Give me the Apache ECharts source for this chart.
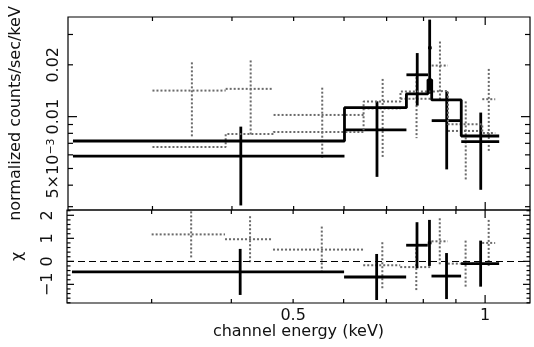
<!DOCTYPE html>
<html><head><meta charset="utf-8">
<script src="https://cdn.jsdelivr.net/npm/echarts@6/dist/echarts.min.js"></script>
<style>html,body{margin:0;padding:0;background:#fff}#c{width:534px;height:347px}</style>
</head><body><div id="c"></div>
<script>
// ---------------- data ----------------
// black (solid) spectrum: bins in keV, rates in counts/sec/keV
const blackBinLo   = [0.225, 0.601, 0.752, 0.813, 0.824, 0.917];
const blackBinHi   = [0.601, 0.752, 0.813, 0.824, 0.917, 1.052];
const blackBinMid  = [0.413, 0.676, 0.782, 0.818, 0.870, 0.984];
const blackRate    = [0.0059, 0.00837, 0.0175, 0.0251, 0.00948, 0.00716];
const blackRateErr = [0.00285, 0.0039, 0.0059, 0.0115, 0.00454, 0.0034];
const blackModelEdges = [0.225, 0.601, 0.752, 0.813, 0.824, 0.917, 1.052];
const blackModel      = [0.00722, 0.01128, 0.01356, 0.01636, 0.01251, 0.00772];
const blackChi    = [-0.46, -0.68, 0.70, 0.80, -0.64, -0.10];
const blackChiErr = [1, 1, 1, 1, 1, 1];

// grey (dotted) spectrum
const greyBinLo   = [0.300, 0.391, 0.465, 0.644, 0.736, 0.824, 0.874, 0.9895];
const greyBinHi   = [0.391, 0.465, 0.644, 0.736, 0.824, 0.874, 0.9895, 1.037];
const greyBinMid  = [0.346, 0.428, 0.5545, 0.690, 0.780, 0.849, 0.932, 1.013];
const greyRate    = [0.01417, 0.0145, 0.01023, 0.01116, 0.0127, 0.0198, 0.00826, 0.01263];
const greyRateErr = [0.0065, 0.0067, 0.0045, 0.0054, 0.0052, 0.0075, 0.0040, 0.0063];
const greyModelEdges = [0.300, 0.391, 0.465, 0.644, 0.736, 0.824, 0.874, 0.9895, 1.037];
const greyModel      = [0.00666, 0.00793, 0.00815, 0.01223, 0.0140, 0.0141, 0.00903, 0.00804];
const greyChi    = [1.17, 0.96, 0.51, -0.17, -0.25, 0.87, -0.10, 0.80];
const greyChiErr = [1, 1, 1, 1, 1, 1, 1, 1];

// axes
const energyRange = [0.221, 1.176];
const rateRange   = [0.00287, 0.0379];
const chiRange    = [-1.81, 2.23];
const energyTicksMinor = [0.3, 0.4, 0.5, 0.6, 0.7, 0.8, 0.9];
const energyTicksMajor = [1];
const energyLabelValues = [0.5, 1];
const energyLabelTexts  = ['0.5', '1'];
const rateTicksMinor = [0.003, 0.004, 0.005, 0.006, 0.007, 0.008, 0.009, 0.02, 0.03];
const rateTicksMajor = [0.01];
const rateLabelValues = [0.005, 0.01, 0.02];
const rateLabelTexts  = ['5×10{s|−3}', '0.01', '0.02'];
const chiTicksMajor = [-1, 0, 1, 2];
const chiTicksMinor = [-1.8, -1.6, -1.4, -1.2, -0.8, -0.6, -0.4, -0.2, 0.2, 0.4, 0.6, 0.8, 1.2, 1.4, 1.6, 1.8, 2.2];
const chiLabelValues = [-1, 0, 1, 2];
const chiLabelTexts  = ['−1', '0', '1', '2'];

// ---------------- drawing ----------------
const FONT = '"DejaVu Sans", sans-serif';
const BLACK = {stroke: '#000', lineWidth: 2.8};
const GREY  = {stroke: '#6a6a6a', lineWidth: 2, lineDash: [2, 2]};

function crossSeries(g, lo, hi, mid, val, err, style) {
  return {
    type: 'custom', xAxisIndex: g, yAxisIndex: g, silent: true, animation: false,
    data: lo.map((l, i) => [l, hi[i], mid[i], val[i], err[i]]),
    encode: {x: [0, 1, 2], y: 3},
    renderItem(params, api) {
      const y = api.value(3), e = api.value(4), m = api.value(2);
      const a = api.coord([api.value(0), y]), b = api.coord([api.value(1), y]);
      const t = api.coord([m, y + e]), u = api.coord([m, y - e]);
      return {type: 'group', children: [
        {type: 'line', shape: {x1: a[0], y1: a[1], x2: b[0], y2: b[1]}, style: style},
        {type: 'line', shape: {x1: t[0], y1: t[1], x2: u[0], y2: u[1]}, style: style}
      ]};
    }
  };
}
function stepSeries(g, edges, vals, lineStyle) {
  return {
    type: 'line', xAxisIndex: g, yAxisIndex: g, step: 'end', symbol: 'none', silent: true,
    animation: false, lineStyle: lineStyle,
    data: edges.map((e, i) => [e, vals[Math.min(i, vals.length - 1)]])
  };
}
function tickSeries(g, dim, values, len, ref) {
  return {
    type: 'custom', xAxisIndex: g, yAxisIndex: g, silent: true, clip: false, animation: false, z: 5,
    data: values.map(v => dim === 'x' ? [v, ref] : [ref, v]),
    encode: {x: 0, y: 1},
    renderItem(params, api) {
      const cs = params.coordSys;
      const p = api.coord([api.value(0), api.value(1)]);
      const st = {stroke: '#000', lineWidth: 1.2};
      if (dim === 'x') {
        const b = cs.y + cs.height, t = cs.y;
        return {type: 'group', children: [
          {type: 'line', shape: {x1: p[0], y1: b, x2: p[0], y2: b - len}, style: st},
          {type: 'line', shape: {x1: p[0], y1: t, x2: p[0], y2: t + len}, style: st}]};
      }
      const l = cs.x, r = cs.x + cs.width;
      return {type: 'group', children: [
        {type: 'line', shape: {x1: l, y1: p[1], x2: l + len, y2: p[1]}, style: st},
        {type: 'line', shape: {x1: r, y1: p[1], x2: r - len, y2: p[1]}, style: st}]};
    }
  };
}
function labelSeries(g, dim, values, texts, off, ref) {
  return {
    type: 'custom', xAxisIndex: g, yAxisIndex: g, silent: true, clip: false, animation: false, z: 5,
    data: values.map((v, i) => dim === 'x' ? [v, ref, i] : [ref, v, i]),
    encode: {x: 0, y: 1},
    renderItem(params, api) {
      const cs = params.coordSys;
      const p = api.coord([api.value(0), api.value(1)]);
      const txt = texts[api.value(2)];
      const style = {text: txt, font: '16px ' + FONT, fill: '#111',
        align: 'center', verticalAlign: 'middle', textAlign: 'center', textVerticalAlign: 'middle',
        rich: {s: {fontSize: 11, fontFamily: FONT, verticalAlign: 'top', fill: '#111'}}};
      if (dim === 'x') return {type: 'text', x: p[0], y: cs.y + cs.height + off, style: style};
      return {type: 'text', x: cs.x - off, y: p[1], rotation: Math.PI / 2, style: style};
    }
  };
}

const chart = echarts.init(document.getElementById('c'), null, {renderer: 'canvas'});
const hiddenAxis = {axisLine: {show: false}, axisTick: {show: false}, axisLabel: {show: false}, splitLine: {show: false}};
const nameStyle = {fontFamily: FONT, fontSize: 16, color: '#111'};

const option = {
  backgroundColor: '#fff',
  animation: false,
  grid: [
    {left: 67, top: 17, width: 463, height: 193, show: true, borderColor: '#000', borderWidth: 1.2, backgroundColor: 'transparent'},
    {left: 67, top: 210, width: 463, height: 93, show: true, borderColor: '#000', borderWidth: 1.2, backgroundColor: 'transparent'}
  ],
  xAxis: [
    Object.assign({type: 'log', gridIndex: 0, min: energyRange[0], max: energyRange[1]}, hiddenAxis),
    Object.assign({type: 'log', gridIndex: 1, min: energyRange[0], max: energyRange[1],
      name: 'channel energy (keV)', nameLocation: 'middle', nameGap: 21, nameTextStyle: nameStyle}, hiddenAxis)
  ],
  yAxis: [
    Object.assign({type: 'log', gridIndex: 0, min: rateRange[0], max: rateRange[1],
      name: 'normalized counts/sec/keV', nameLocation: 'middle', nameGap: 44, nameTextStyle: nameStyle}, hiddenAxis),
    Object.assign({type: 'value', gridIndex: 1, min: chiRange[0], max: chiRange[1],
      name: 'χ', nameLocation: 'middle', nameGap: 41, nameTextStyle: nameStyle}, hiddenAxis)
  ],
  series: [
    // top panel
    crossSeries(0, greyBinLo, greyBinHi, greyBinMid, greyRate, greyRateErr, GREY),
    stepSeries(0, greyModelEdges, greyModel, {color: '#6a6a6a', width: 2, type: [2, 2]}),
    crossSeries(0, blackBinLo, blackBinHi, blackBinMid, blackRate, blackRateErr, BLACK),
    stepSeries(0, blackModelEdges, blackModel, {color: '#000', width: 2.8}),
    // bottom panel
    Object.assign(crossSeries(1, greyBinLo, greyBinHi, greyBinMid, greyChi, greyChiErr, GREY), {
      markLine: {silent: true, symbol: 'none', animation: false, label: {show: false},
        lineStyle: {color: '#000', width: 1, type: [7, 4]}, data: [{yAxis: 0}]}
    }),
    crossSeries(1, blackBinLo, blackBinHi, blackBinMid, blackChi, blackChiErr, BLACK),
    // ticks and tick labels
    tickSeries(0, 'x', energyTicksMinor, 4, rateRange[0]),
    tickSeries(0, 'x', energyTicksMajor, 8, rateRange[0]),
    tickSeries(1, 'x', energyTicksMinor, 4, chiRange[0]),
    tickSeries(1, 'x', energyTicksMajor, 8, chiRange[0]),
    tickSeries(0, 'y', rateTicksMinor, 5, energyRange[0]),
    tickSeries(0, 'y', rateTicksMajor, 9, energyRange[0]),
    tickSeries(1, 'y', chiTicksMinor, 3.5, energyRange[0]),
    tickSeries(1, 'y', chiTicksMajor, 7, energyRange[0]),
    labelSeries(1, 'x', energyLabelValues, energyLabelTexts, 13, chiRange[0]),
    labelSeries(0, 'y', rateLabelValues, rateLabelTexts, 14.5, energyRange[0]),
    labelSeries(1, 'y', chiLabelValues, chiLabelTexts, 19.5, energyRange[0])
  ]
};
chart.setOption(option);
</script>
</body></html>
